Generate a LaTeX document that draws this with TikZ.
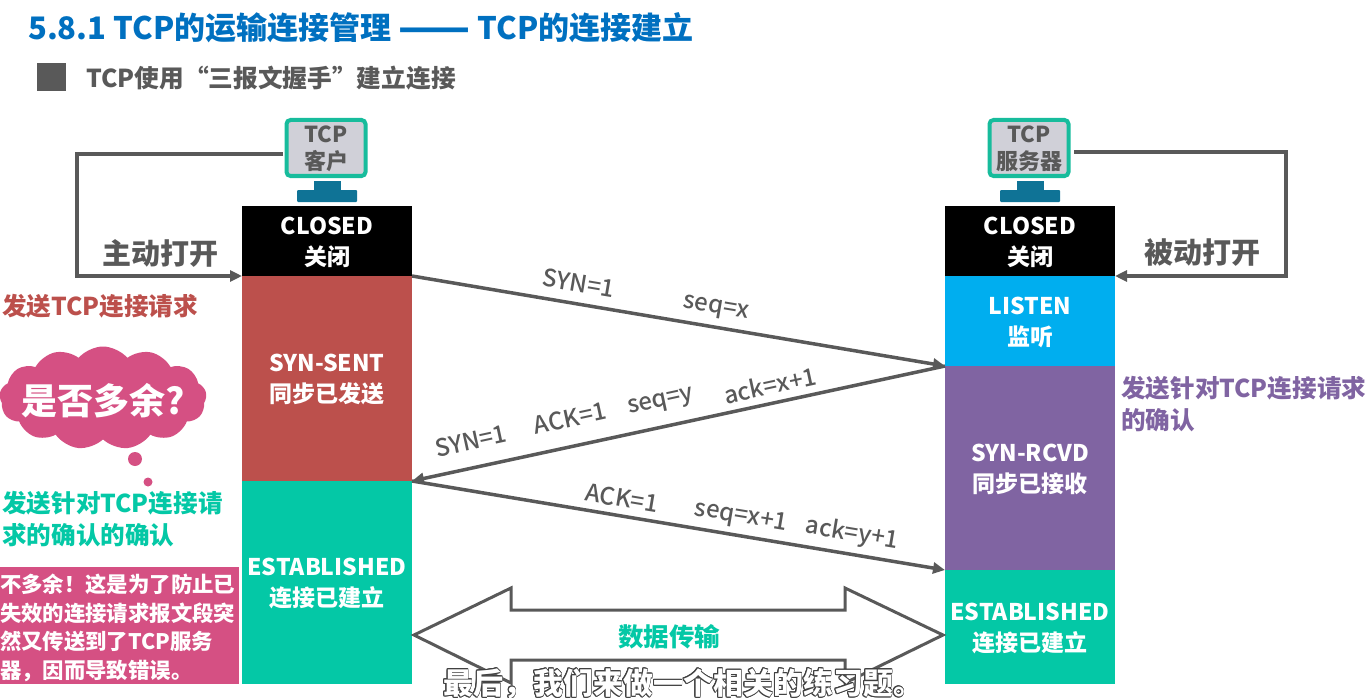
\documentclass[tikz,border=0pt]{standalone}
\usepackage{fontspec}
\setmainfont{Noto Sans CJK SC}
\newfontfamily\medfont{Noto Sans CJK SC Medium}
\usepackage[copies]{contour}
\usetikzlibrary{positioning,arrows.meta,shapes.symbols}
\definecolor{titleblue}{HTML}{0070C0}
\definecolor{textgray}{HTML}{595959}
\definecolor{sentred}{HTML}{BC504C}
\definecolor{listenblue}{HTML}{00AEEF}
\definecolor{rcvdpurple}{HTML}{8064A2}
\definecolor{estgreen}{HTML}{04C8A6}
\definecolor{framegreen}{HTML}{17BC9C}
\definecolor{screengray}{HTML}{D0D0D8}
\definecolor{standblue}{HTML}{0F7396}
\definecolor{askpink}{HTML}{D55083}
\tikzset{
  statebox/.style = {rectangle, outer sep=0pt, minimum width=170pt, inner sep=0pt, text=white, align=center, text depth=0pt, font=\bfseries\fontsize{23}{31}\selectfont},
  monitor/.style = {rectangle, outer sep=0pt, rounded corners=4pt, draw=framegreen, line width=4pt, fill=screengray, minimum width=79pt, minimum height=56pt, inner sep=0pt, xshift=-1pt, text=textgray, align=center, text depth=0pt, font=\bfseries\fontsize{22}{27}\selectfont},
  standtop/.style = {rectangle, outer sep=0pt, fill=standblue, minimum width=27pt, minimum height=9pt, inner sep=0pt},
  standbase/.style = {rectangle, outer sep=0pt, fill=standblue, rounded corners=1pt, minimum width=60pt, minimum height=12pt, inner sep=0pt},
  msg/.style = {draw=textgray, line width=3.5pt, -{Triangle[length=12pt,width=11pt]}},
  msglabel/.style = {inner sep=0pt, text=textgray, font=\medfont\fontsize{24}{24}\selectfont},
  sidenote/.style = {inner sep=0pt, anchor=west, align=left, font=\bfseries\fontsize{24.6}{32}\selectfont},
  openlabel/.style = {inner sep=0pt, text=textgray, font=\bfseries\fontsize{29}{29}\selectfont},
  bubble/.style = {circle, fill=askpink, inner sep=0pt}
}
\begin{document}
\begin{tikzpicture}[x=1pt,y=-1pt]
    \useasboundingbox (0,0) rectangle (1371,698);
    % heading
    \node[inner sep=0pt, anchor=west, text=titleblue, font=\bfseries\fontsize{31}{34}\selectfont] (title) at (28,28) {5.8.1 TCP的运输连接管理 {\fontsize{42}{34}\selectfont\raisebox{-3pt}{——}} TCP的连接建立};
    \node[rectangle, fill=textgray, minimum width=29pt, minimum height=28pt, inner sep=0pt] (mark) at (51.5,77.5) {};
    \node[inner sep=0pt, anchor=west, text=textgray, font=\bfseries\fontsize{24.7}{26}\selectfont] (subtitle) at (86,78) {TCP使用“三报文握手”建立连接};
    % client column
    \node[statebox, fill=black, minimum height=70pt] (closedC) at (327,241) {CLOSED\\关闭};
    \node[statebox, fill=sentred, minimum height=205pt, below=0pt of closedC] (synsent) {SYN-SENT\\同步已发送};
    \node[statebox, fill=estgreen, minimum height=203pt, below=0pt of synsent] (estC) {ESTABLISHED\\连接已建立};
    \node[standbase, above=4pt of closedC] (baseC) {};
    \node[standtop, above=0pt of baseC] (topC) {};
    \node[monitor, above=5pt of topC] (monitorC) {TCP\\客户};
    % server column
    \node[statebox, fill=black, minimum height=70pt] (closedS) at (1030,241) {CLOSED\\关闭};
    \node[statebox, fill=listenblue, minimum height=90pt, below=0pt of closedS] (listen) {LISTEN\\监听};
    \node[statebox, fill=rcvdpurple, minimum height=204pt, below=0pt of listen] (synrcvd) {SYN-RCVD\\同步已接收};
    \node[statebox, fill=estgreen, minimum height=114pt, below=0pt of synrcvd] (estS) {ESTABLISHED\\连接已建立};
    \node[standbase, above=4pt of closedS] (baseS) {};
    \node[standtop, above=0pt of baseS] (topS) {};
    \node[monitor, above=5pt of topS] (monitorS) {TCP\\服务器};
    % open paths
    \coordinate (leaveC) at (283,154);
    \coordinate (leaveS) at (1074,152);
    \coordinate (loopC) at (77,154);
    \coordinate (loopS) at (1286,152);
    \draw[msg] (leaveC) -- (loopC) |- (closedC.south west);
    \draw[msg] (leaveS) -- (loopS) |- (closedS.south east);
    \node[openlabel] (activeopen) at (160,253) {主动打开};
    \node[openlabel] (passiveopen) at (1202,253) {被动打开};
    % handshake
    \draw[msg] (synsent.north east) -- (synrcvd.north west);
    \draw[msg] (synrcvd.north west) -- (estC.north east);
    \draw[msg] (estC.north east) -- (estS.north west);
    \node[msglabel, rotate=-9.6] (syn1) at (579,283) {SYN=1};
    \node[msglabel, rotate=-9.6] (seqx) at (716,309) {seq=x};
    \node[msglabel, rotate=12.2] (syn2) at (471,441) {SYN=1};
    \node[msglabel, rotate=12.2] (ack2) at (570,418) {ACK=1};
    \node[msglabel, rotate=12.2] (seqy) at (661,403) {seq=y};
    \node[msglabel, rotate=12.2] (ackx) at (770,385) {ack=x+1};
    \node[msglabel, rotate=-9.5] (ack3) at (622,498) {ACK=1};
    \node[msglabel, rotate=-9.5] (seqx3) at (741,517) {seq=x+1};
    \node[msglabel, rotate=-9.5] (acky) at (852,534) {ack=y+1};
    % data transfer
    \draw[draw=textgray, line width=3pt, line join=miter] (414,635) -- (511,588) -- (511,610) -- (845,610) -- (845,588) -- (943,635) -- (845,683) -- (845,660) -- (511,660) -- (511,683) -- cycle;
    \node[inner sep=0pt, text=estgreen, font=\bfseries\fontsize{25.5}{26}\selectfont] (datatransfer) at (669,637) {数据传输};
    % side notes
    \node[sidenote, text=sentred] (noteone) at (2,306) {发送TCP连接请求};
    \node[sidenote, text=rcvdpurple] (notetwo) at (1121,404) {发送针对TCP连接请求\\的确认};
    \node[sidenote, text=estgreen] (notethree) at (2,519) {发送针对TCP连接请\\求的确认的确认};
    % question
    \node[cloud, cloud puffs=13, cloud puff arc=100, aspect=1.9, fill=askpink, minimum width=207pt, minimum height=103pt, inner sep=0pt] (ask) at (103,398) {};
    \node[inner sep=0pt, text=white, yshift=-3pt, font=\bfseries\fontsize{36}{38}\selectfont] (asktext) at (ask.center) {是否多余?};
    \node[bubble, minimum size=14pt] (bubbleone) at (135,459) {};
    \node[bubble, minimum size=9pt] (bubbletwo) at (148,482) {};
    \node[rectangle, fill=askpink, minimum width=239pt, minimum height=117pt, inner sep=0pt] (answer) at (119.5,625.5) {};
    \node[inner sep=0pt, text=white, align=left, text width=239pt, yshift=-2.5pt, font=\bfseries\fontsize{21.4}{28.6}\selectfont] (answertext) at (answer.center) {不多余！这是为了防止已\\失效的连接请求报文段突\\然又传送到了TCP服务\\器，因而导致错误。};
    % caption
    \contourlength{0.8pt}
    \node[inner sep=0pt, text=white, font=\bfseries\fontsize{30}{31}\selectfont] (caption) at (683,684) {\contour{black!75}{最后，我们来做一个相关的练习题。}};
\end{tikzpicture}
\end{document}
